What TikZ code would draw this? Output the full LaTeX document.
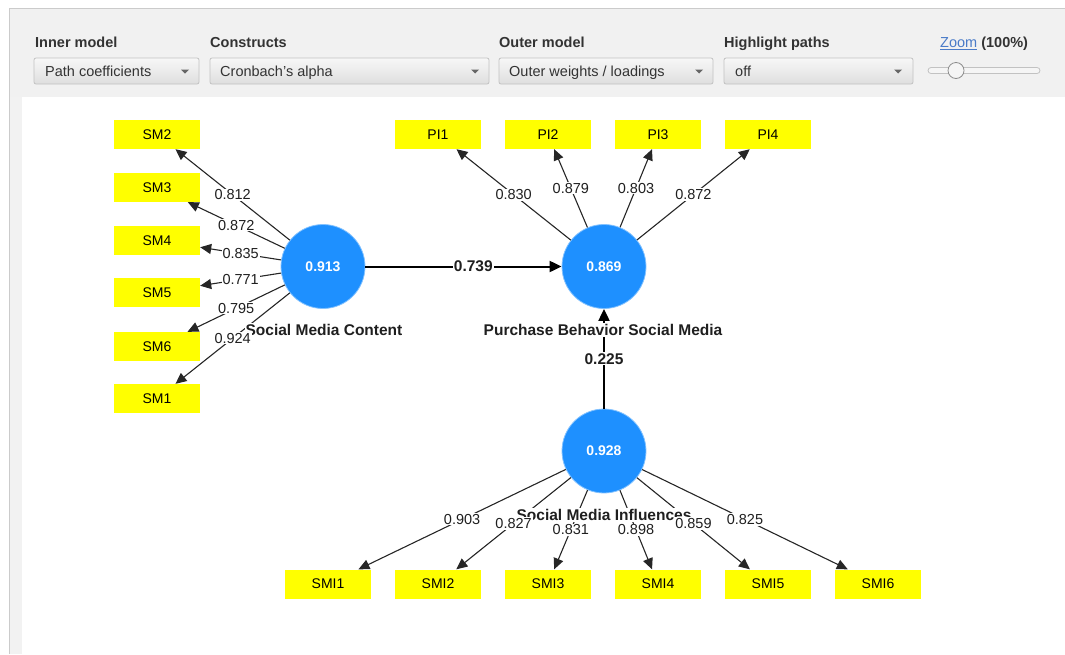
\documentclass[tikz,border=0pt]{standalone}
\usepackage{fontspec}
\setmainfont{Liberation Sans}
\usetikzlibrary{arrows.meta}

\definecolor{panelbg}{HTML}{F1F1F1}
\definecolor{framegray}{HTML}{CBCBCB}
\definecolor{lvblue}{HTML}{1E90FF}
\definecolor{hdrtext}{HTML}{333333}
\definecolor{ddborder}{HTML}{C2C2C2}
\definecolor{linkblue}{HTML}{4A7BC8}
\definecolor{mvyellow}{HTML}{FFFF00}

\begin{document}
\begin{tikzpicture}[x=1pt,y=-1pt,
  lv/.style={circle,fill=lvblue,draw=lvblue!55!white,line width=0.8pt,minimum size=84pt,inner sep=0pt,
    text=white,font=\fontsize{14}{16}\selectfont\bfseries},
  mv/.style={fill=mvyellow,minimum width=86pt,minimum height=29pt,inner sep=0pt,
    font=\fontsize{14}{16}\selectfont},
  outer/.style={draw=black!85,line width=1.1pt,-{Triangle[length=11pt,width=10pt]}},
  inner/.style={draw=black,line width=2pt,-{Triangle[length=12pt,width=11pt]}},
  wt/.style={fill=white,inner sep=1pt,text=black!88,font=\fontsize{14.5}{16}\selectfont},
  pc/.style={fill=white,inner sep=1pt,text=black!88,font=\fontsize{15.5}{17}\selectfont\bfseries},
  lvname/.style={fill=white,inner sep=1pt,text=black!88,font=\fontsize{15.5}{17}\selectfont\bfseries},
  hdr/.style={anchor=base west,inner sep=0pt,text=hdrtext,font=\fontsize{14.5}{17}\selectfont\bfseries},
  ddbox/.style={draw=ddborder,line width=0.8pt,rounded corners=2pt,top color=white!97!black,bottom color=white!87!black},
  ddtext/.style={anchor=base west,inner sep=0pt,text=hdrtext,font=\fontsize{14.5}{17}\selectfont},
  ddarrow/.style={fill=black!60,draw=none}
]
\useasboundingbox (0,0) rectangle (1065,654);

% ---------- window frame and toolbar ----------
\fill[panelbg] (10,9) rectangle (1065,97);
\fill[white!95!black] (10,97) rectangle (22,654);
\draw[framegray,line width=1pt] (9.5,654) -- (9.5,8.5) -- (1065,8.5);

\node[hdr] (hInner) at (35,47.5) {Inner model};
\node[hdr] (hCons)  at (210,47.5) {Constructs};
\node[hdr] (hOuter) at (499,47.5) {Outer model};
\node[hdr] (hHigh)  at (724,47.5) {Highlight paths};
\node[hdr] (hZoom)  at (940,47.5) {\textcolor{linkblue}{\mdseries\underline{Zoom}} (100\%)};

\path[ddbox] (34,58) rectangle (199,84);
\path[ddbox] (210,58) rectangle (489,84);
\path[ddbox] (499,58) rectangle (713,84);
\path[ddbox] (724,58) rectangle (913,84);

\node[ddtext] (dInner) at (45,76) {Path coefficients};
\node[ddtext] (dCons)  at (220,76) {Cronbach's alpha};
\node[ddtext] (dOuter) at (509,76) {Outer weights / loadings};
\node[ddtext] (dHigh)  at (735,76) {off};

\foreach \ax in {185,475,699,898}
  \fill[ddarrow] (\ax-4,69.5) -- (\ax+4,69.5) -- (\ax,73.5) -- cycle;

% zoom slider
\draw[ddborder,fill=white!96!black,rounded corners=3pt,line width=0.8pt] (928,67.5) rectangle (1040,73.5);
\draw[black!45,fill=white!96!black,line width=0.8pt] (956,70.5) circle (8);

% ---------- latent variables ----------
\node[lv] (smc)  at (323,266.5) {0.913};
\node[lv] (pbsm) at (604,266.5) {0.869};
\node[lv] (smi)  at (604,451)   {0.928};

% ---------- indicators ----------
\node[mv] (sm2) at (157,134.5) {SM2};
\node[mv] (sm3) at (157,187.5) {SM3};
\node[mv] (sm4) at (157,240.5) {SM4};
\node[mv] (sm5) at (157,292.5) {SM5};
\node[mv] (sm6) at (157,346.5) {SM6};
\node[mv] (sm1) at (157,398.5) {SM1};

\node[mv] (pi1) at (438,134.5) {PI1};
\node[mv] (pi2) at (548,134.5) {PI2};
\node[mv] (pi3) at (658,134.5) {PI3};
\node[mv] (pi4) at (768,134.5) {PI4};

\node[mv] (smi1) at (328,584) {SMI1};
\node[mv] (smi2) at (438,584) {SMI2};
\node[mv] (smi3) at (548,584) {SMI3};
\node[mv] (smi4) at (658,584) {SMI4};
\node[mv] (smi5) at (768,584) {SMI5};
\node[mv] (smi6) at (878,584) {SMI6};

% ---------- outer model arrows ----------
\draw[outer] (smc) -- coordinate[pos=.5] (wSM2) (sm2);
\draw[outer] (smc) -- coordinate[pos=.5] (wSM3) (sm3);
\draw[outer] (smc) -- coordinate[pos=.5] (wSM4) (sm4);
\draw[outer] (smc) -- coordinate[pos=.5] (wSM5) (sm5);
\draw[outer] (smc) -- coordinate[pos=.5] (wSM6) (sm6);
\draw[outer] (smc) -- coordinate[pos=.5] (wSM1) (sm1);

\draw[outer] (pbsm) -- coordinate[pos=.5] (wPI1) (pi1);
\draw[outer] (pbsm) -- coordinate[pos=.5] (wPI2) (pi2);
\draw[outer] (pbsm) -- coordinate[pos=.5] (wPI3) (pi3);
\draw[outer] (pbsm) -- coordinate[pos=.5] (wPI4) (pi4);

\draw[outer] (smi) -- coordinate[pos=.5] (wSMI1) (smi1);
\draw[outer] (smi) -- coordinate[pos=.5] (wSMI2) (smi2);
\draw[outer] (smi) -- coordinate[pos=.5] (wSMI3) (smi3);
\draw[outer] (smi) -- coordinate[pos=.5] (wSMI4) (smi4);
\draw[outer] (smi) -- coordinate[pos=.5] (wSMI5) (smi5);
\draw[outer] (smi) -- coordinate[pos=.5] (wSMI6) (smi6);

% ---------- inner model paths ----------
\draw[inner] (smc) -- coordinate[pos=.55] (pSMC) (pbsm);
\draw[inner] (smi) -- coordinate[pos=.5] (pSMI) (pbsm);

% ---------- construct names ----------
\node[lvname] (nSMC)  at (324,330) {Social Media Content};
\node[lvname] (nPBSM) at (603,330) {Purchase Behavior Social Media};
\node[lvname] (nSMI)  at (604,515) {Social Media Influences};

% ---------- coefficients ----------
\node[wt] at (wSM2) {0.812};
\node[wt] at (wSM3) {0.872};
\node[wt] at (wSM4) {0.835};
\node[wt] at (wSM5) {0.771};
\node[wt] at (wSM6) {0.795};
\node[wt] at (wSM1) {0.924};

\node[wt] at (wPI1) {0.830};
\node[wt] at (wPI2) {0.879};
\node[wt] at (wPI3) {0.803};
\node[wt] at (wPI4) {0.872};

\node[wt] at (wSMI1) {0.903};
\node[wt] at (wSMI2) {0.827};
\node[wt] at (wSMI3) {0.831};
\node[wt] at (wSMI4) {0.898};
\node[wt] at (wSMI5) {0.859};
\node[wt] at (wSMI6) {0.825};

\node[pc] at (pSMC) {0.739};
\node[pc] at (pSMI) {0.225};
\end{tikzpicture}
\end{document}
